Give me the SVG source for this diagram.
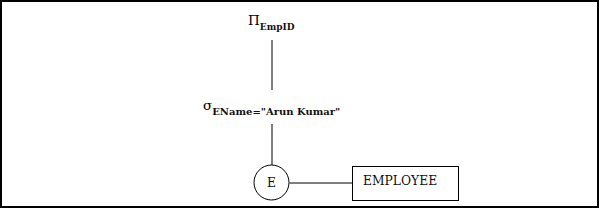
<svg xmlns="http://www.w3.org/2000/svg" width="600" height="209" viewBox="0 0 600 209">
<style>
.frame{fill:#fff;stroke:#000;stroke-width:2}
.ln{stroke:#000;stroke-width:1;fill:none}
.sh{fill:#fff;stroke:#000;stroke-width:1}
.big{font-family:"DejaVu Serif",serif;font-size:13.5px;fill:#000}
.sub{font-family:"DejaVu Serif",serif;font-weight:bold;fill:#111}
.lbl{font-family:"DejaVu Serif",serif;font-size:12.3px;fill:#111}
</style>
<rect class="frame" x="1" y="1" width="597" height="206"/>
<g id="connectors">
<line class="ln" x1="272" y1="40" x2="272" y2="90"/>
<line class="ln" x1="272" y1="124" x2="272" y2="165"/>
<line class="ln" x1="289.5" y1="183" x2="352" y2="183"/>
</g>
<g id="project">
<text x="248" y="25"><tspan class="big">Π</tspan><tspan class="sub" font-size="9" dy="5">EmpID</tspan></text>
</g>
<g id="select">
<text x="203" y="110"><tspan class="big" font-size="16">σ</tspan><tspan class="sub" font-size="10" dy="5">EName="Arun Kumar"</tspan></text>
</g>
<g id="E">
<circle class="sh" cx="271.5" cy="182.5" r="17.5"/>
<text class="lbl" x="271.5" y="187" text-anchor="middle">E</text>
</g>
<g id="EMPLOYEE">
<rect class="sh" x="352.5" y="166.5" width="106" height="34"/>
<text class="lbl" x="363" y="184.5">EMPLOYEE</text>
</g>
</svg>
